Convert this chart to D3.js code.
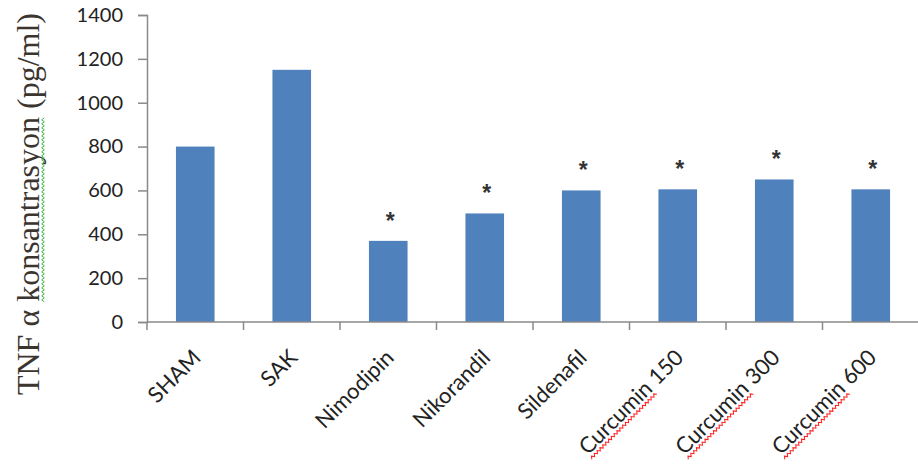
<!DOCTYPE html>
<html>
<head>
<meta charset="utf-8">
<script src="https://cdn.jsdelivr.net/npm/d3@7"></script>
<style>
  html, body { margin: 0; padding: 0; background: #ffffff; }
  svg { display: block; }
</style>
</head>
<body>
<svg id="chart" width="918" height="468"></svg>
<script>
// TNF α levels per treatment group
const categories = ["SHAM", "SAK", "Nimodipin", "Nikorandil", "Sildenafil", "Curcumin 150", "Curcumin 300", "Curcumin 600"];
const tnfValues = [800, 1150, 370, 495, 600, 605, 650, 605];
const significant = [false, false, true, true, true, true, true, true];
const yTicks = [0, 200, 400, 600, 800, 1000, 1200, 1400];
const yTitle = "TNF α konsantrasyon (pg/ml)";
const yTitleMarkedWord = "konsantrasyon";
const xMarkedWord = "Curcumin";

const svg = d3.select("#chart");
const plot = { left: 147, right: 919, top: 15, bottom: 322 };

const x = d3.scaleBand()
  .domain(categories)
  .range([plot.left, plot.right])
  .paddingInner(0.6)
  .paddingOuter(0.3);

const y = d3.scaleLinear()
  .domain([0, 1400])
  .range([plot.bottom, plot.top]);

const axisColor = "#8a8a8a";
const textColor = "#222222";

// bars
svg.append("g")
  .selectAll("rect")
  .data(categories)
  .join("rect")
  .attr("x", d => x(d))
  .attr("y", (d, i) => y(tnfValues[i]))
  .attr("width", x.bandwidth())
  .attr("height", (d, i) => y(0) - y(tnfValues[i]))
  .attr("fill", "#4f81bd");

// significance markers
svg.append("g")
  .selectAll("text")
  .data(categories.filter((d, i) => significant[i]))
  .join("text")
  .attr("x", d => x(d) + x.bandwidth() / 2 + 2)
  .attr("y", d => y(tnfValues[categories.indexOf(d)]) - 12)
  .attr("text-anchor", "middle")
  .attr("font-family", "Liberation Sans, Arial, sans-serif")
  .attr("font-weight", "bold")
  .attr("font-size", 23)
  .attr("fill", "#333")
  .text("*");

// y axis
const yAxis = svg.append("g")
  .attr("transform", `translate(${plot.left},0)`)
  .call(d3.axisLeft(y).tickValues(yTicks).tickSize(9).tickPadding(15).tickFormat(d3.format("d")));
yAxis.select(".domain").attr("stroke", axisColor).attr("stroke-width", 1.5);
yAxis.selectAll(".tick line").attr("stroke", axisColor).attr("stroke-width", 1.5);
yAxis.selectAll(".tick text")
  .attr("font-family", "Lato, sans-serif")
  .attr("font-size", 20)
  .attr("fill", textColor);

// x axis line and category boundary ticks
const step = x.step();
const xStart = x(categories[0]) - x.paddingOuter() * step;
svg.append("line")
  .attr("x1", xStart).attr("x2", plot.right)
  .attr("y1", y(0)).attr("y2", y(0))
  .attr("stroke", axisColor).attr("stroke-width", 1.5);
svg.append("g")
  .selectAll("line")
  .data(d3.range(categories.length + 1))
  .join("line")
  .attr("x1", i => xStart + i * step)
  .attr("x2", i => xStart + i * step)
  .attr("y1", y(0)).attr("y2", y(0) + 8)
  .attr("stroke", axisColor).attr("stroke-width", 1.5);

// wavy proofing underline under a word of a text element
function wavyUnderline(textSel, word, color) {
  const node = textSel.node();
  const full = node.textContent;
  const idx = full.indexOf(word);
  if (idx < 0) return;
  const total = node.getComputedTextLength();
  const anchor = textSel.attr("text-anchor") || "start";
  const x0 = +textSel.attr("x") || 0;
  const y0 = +textSel.attr("y") || 0;
  const originX = anchor === "end" ? x0 - total : anchor === "middle" ? x0 - total / 2 : x0;
  const startX = originX + node.getSubStringLength(0, idx);
  const w = node.getSubStringLength(idx, word.length);
  const base = y0 + 4;
  const pts = [];
  const period = 4;
  for (let k = 0; k * (period / 2) <= w; k++) {
    pts.push([startX + k * period / 2, base + (k % 2 === 0 ? 1.3 : -1.3)]);
  }
  d3.select(node.parentNode).append("path")
    .attr("d", d3.line()(pts))
    .attr("fill", "none")
    .attr("stroke", color)
    .attr("stroke-width", 1);
}

// category labels, rotated
const labelGroups = svg.append("g")
  .selectAll("g")
  .data(categories)
  .join("g")
  .attr("transform", d => `translate(${x(d) + x.bandwidth() / 2 + 7},${y(0) + 37}) rotate(-45)`);
labelGroups.append("text")
  .attr("x", 0).attr("y", 0)
  .attr("text-anchor", "end")
  .attr("font-family", "Lato, sans-serif")
  .attr("font-size", 22)
  .attr("fill", textColor)
  .text(d => d);
labelGroups.each(function (d) {
  if (d.indexOf(xMarkedWord) === 0) {
    wavyUnderline(d3.select(this).select("text"), xMarkedWord, "#ff2020");
  }
});

// y axis title
const titleGroup = svg.append("g")
  .attr("transform", `translate(39,204) rotate(-90)`);
const titleText = titleGroup.append("text")
  .attr("x", 0).attr("y", 0)
  .attr("text-anchor", "middle")
  .attr("font-family", "Liberation Serif, Times New Roman, serif")
  .attr("font-size", 32)
  .attr("fill", "#3b3530")
  .text(yTitle);
wavyUnderline(titleText, yTitleMarkedWord, "#3cb83c");
</script>
</body>
</html>
